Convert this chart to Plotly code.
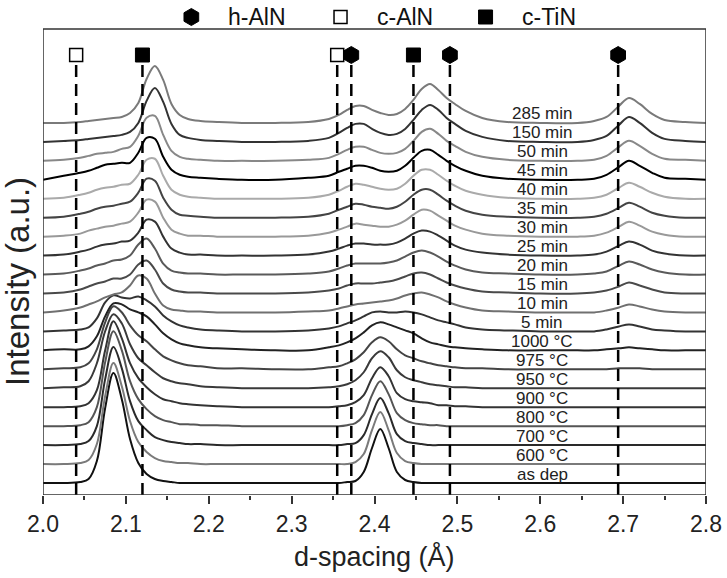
import plotly.graph_objects as go

# ---------------- data ----------------
d_spacing = [2.000, 2.025, 2.045, 2.055, 2.065, 2.075, 2.085, 2.095, 2.105, 2.115,
             2.125, 2.135, 2.145, 2.155, 2.165, 2.175, 2.19, 2.21, 2.24, 2.28,
             2.32, 2.345, 2.357, 2.367, 2.377, 2.387, 2.397, 2.407, 2.417, 2.427,
             2.437, 2.447, 2.457, 2.467, 2.477, 2.487, 2.497, 2.51, 2.53, 2.56,
             2.60, 2.645, 2.665, 2.68, 2.695, 2.707, 2.72, 2.735, 2.75, 2.775, 2.80]

labels = ["as dep", "600 °C", "700 °C", "800 °C", "900 °C", "950 °C", "975 °C", "1000 °C",
          "5 min", "10 min", "15 min", "20 min", "25 min", "30 min", "35 min", "40 min",
          "45 min", "50 min", "150 min", "285 min"]

# intensity above each pattern's own baseline (a.u.), bottom pattern first
int_as_dep = ([0, 0, 1, 4, 22, 75, 110, 84, 44, 20, 9, 4, 2, 1, 0, 0, 0, 0, 0, 0]
              + [0, 0, 0, 1, 2, 11, 35, 54, 35, 11, 3, 1, 0, 0, 0, 0, 0, 0, 0, 0, 0]
              + [0, 0, 0, 0, 0, 0, 0, 0, 0, 0])
int_600 = ([0, 0, 1, 4, 20, 68, 101, 78, 43, 22, 12, 6, 3, 2, 1, 1, 0, 0, 0, 0]
           + [0, 0, 0, 0, 2, 10, 34, 52, 34, 11, 3, 1, 0, 0, 0, 0, 0, 0, 0, 0, 0]
           + [0, 0, 0, 0, 0, 0, 0, 0, 0, 0])
int_700 = ([0, 0, 1, 4, 19, 66, 98, 77, 44, 24, 15, 8, 5, 3, 2, 1, 1, 0, 0, 0]
           + [0, 0, 0, 1, 2, 10, 31, 47, 32, 11, 4, 2, 1, 0, 0, 0, 0, 0, 0, 0, 0]
           + [0, 0, 0, 0, 0, 0, 0, 0, 0, 0])
int_800 = ([0, 0, 1, 4, 19, 64, 95, 76, 45, 27, 17, 10, 6, 4, 2, 2, 1, 1, 0, 0]
           + [0, 0, 0, 1, 3, 11, 31, 45, 32, 13, 6, 3, 2, 1, 1, 0, 0, 0, 0, 0, 0]
           + [0, 0, 0, 0, 0, 0, 0, 0, 0, 0])
int_900 = ([0, 0, 1, 4, 17, 57, 86, 69, 44, 29, 20, 13, 8, 6, 4, 3, 2, 1, 0, 0]
           + [0, 0, 1, 2, 5, 12, 29, 40, 31, 14, 8, 6, 5, 4, 2, 2, 1, 1, 0, 0, 0]
           + [0, 0, 0, 0, 0, 0, 0, 0, 0, 0])
int_950 = ([0, 1, 2, 7, 25, 57, 74, 65, 44, 30, 23, 16, 10, 7, 5, 4, 2, 1, 0, 0]
           + [0, 1, 2, 4, 8, 16, 30, 37, 31, 18, 11, 8, 6, 4, 3, 2, 1, 1, 0, 0, 0]
           + [0, 0, 0, 0, 0, 0, 0, 0, 0, 0])
int_975 = ([0, 1, 2, 6, 20, 47, 63, 57, 44, 34, 28, 20, 13, 9, 6, 4, 3, 1, 1, 0]
           + [0, 2, 3, 6, 10, 17, 27, 32, 28, 20, 14, 11, 8, 6, 4, 3, 2, 1, 1, 0, 0]
           + [0, 0, 0, 1, 1, 1, 0, 0, 0, 0])
int_1000 = ([0, 1, 1, 4, 14, 34, 47, 46, 41, 38, 34, 26, 17, 11, 7, 5, 3, 2, 1, 0]
            + [0, 3, 5, 8, 12, 18, 25, 28, 26, 23, 20, 17, 12, 8, 6, 4, 3, 2, 1, 0, 0]
            + [0, 0, 1, 2, 3, 2, 1, 0, 0, 0])
int_5 = ([0, 1, 2, 4, 13, 29, 36, 34, 33, 35, 31, 25, 16, 10, 6, 4, 2, 1, 0, 0]
         + [1, 3, 5, 8, 11, 15, 19, 20, 19, 19, 20, 19, 17, 14, 11, 9, 7, 4, 2, 1, 0]
         + [0, 0, 2, 5, 7, 5, 2, 1, 0, 0])
int_10 = ([0, 2, 5, 8, 11, 15, 18, 20, 27, 37, 34, 19, 7, 3, 2, 1, 1, 0, 0, 0]
          + [1, 2, 4, 6, 8, 9, 10, 11, 12, 14, 17, 19, 20, 18, 15, 11, 8, 5, 2, 1, 0]
          + [0, 0, 2, 5, 8, 6, 3, 1, 0, 0])
int_15 = ([0, 1, 4, 7, 10, 12, 15, 15, 19, 29, 33, 24, 10, 4, 2, 1, 1, 0, 0, 0]
          + [1, 3, 5, 8, 10, 10, 10, 11, 12, 14, 17, 20, 21, 19, 15, 11, 8, 5, 2, 1, 0]
          + [0, 1, 3, 7, 11, 8, 4, 1, 0, 0])
int_20 = ([0, 1, 4, 6, 9, 11, 14, 15, 19, 30, 36, 26, 11, 4, 2, 1, 1, 0, 0, 0]
          + [1, 3, 6, 9, 11, 11, 11, 11, 12, 14, 18, 22, 24, 22, 18, 13, 9, 5, 2, 1, 0]
          + [0, 1, 3, 9, 13, 10, 5, 2, 0, 0])
int_25 = ([0, 1, 4, 6, 9, 11, 12, 14, 15, 23, 36, 34, 19, 7, 3, 1, 1, 0, 0, 0]
          + [1, 4, 7, 10, 12, 12, 11, 11, 11, 13, 17, 22, 25, 24, 20, 15, 10, 6, 3, 1, 0]
          + [0, 1, 4, 10, 14, 11, 5, 2, 0, 0])
int_30 = ([0, 1, 3, 6, 8, 10, 11, 13, 15, 24, 37, 35, 19, 7, 3, 1, 1, 0, 0, 0]
          + [1, 4, 7, 10, 13, 12, 11, 10, 10, 12, 16, 22, 27, 26, 21, 16, 11, 7, 3, 1, 0]
          + [0, 1, 4, 10, 15, 11, 5, 2, 0, 0])
int_35 = ([0, 1, 4, 6, 9, 11, 12, 14, 16, 25, 39, 37, 20, 8, 3, 2, 1, 0, 0, 0]
          + [1, 4, 8, 11, 14, 13, 11, 10, 9, 11, 16, 23, 28, 28, 23, 17, 12, 7, 3, 1, 0]
          + [0, 1, 4, 10, 15, 11, 5, 2, 0, 0])
int_40 = ([0, 1, 4, 6, 9, 11, 12, 14, 15, 24, 39, 40, 23, 9, 4, 2, 1, 0, 0, 0]
          + [1, 4, 8, 12, 15, 14, 12, 10, 9, 10, 15, 23, 29, 29, 24, 18, 13, 8, 4, 1, 0]
          + [0, 1, 4, 11, 16, 12, 6, 2, 0, 0])
int_45 = ([0, 4, 7, 9, 12, 15, 16, 17, 17, 27, 42, 41, 23, 10, 5, 3, 2, 1, 0, 0]
          + [2, 4, 8, 11, 14, 14, 12, 9, 8, 9, 14, 22, 29, 30, 25, 19, 14, 9, 4, 1, 0]
          + [0, 1, 5, 13, 19, 14, 7, 2, 1, 0])
int_50 = ([0, 1, 3, 5, 7, 8, 9, 12, 14, 25, 43, 45, 26, 10, 4, 2, 1, 0, 0, 0]
          + [1, 3, 7, 11, 14, 14, 11, 8, 7, 8, 12, 20, 29, 32, 27, 20, 15, 9, 4, 1, 0]
          + [0, 1, 5, 14, 20, 15, 7, 2, 1, 0])
int_150 = ([0, 1, 2, 3, 4, 5, 6, 7, 10, 19, 41, 54, 40, 18, 7, 4, 2, 1, 0, 0]
           + [1, 4, 9, 14, 18, 18, 13, 9, 7, 8, 13, 22, 32, 37, 32, 24, 18, 11, 5, 1, 0]
           + [0, 2, 6, 17, 25, 19, 9, 3, 1, 0])
int_285 = ([0, 0, 1, 2, 3, 4, 5, 6, 10, 20, 44, 57, 43, 19, 8, 4, 2, 1, 0, 0]
           + [1, 4, 8, 13, 17, 17, 13, 10, 8, 9, 14, 23, 34, 39, 33, 25, 19, 12, 5, 1, 0]
           + [0, 2, 6, 17, 25, 19, 9, 3, 1, 0])

intensities = [int_as_dep, int_600, int_700, int_800, int_900, int_950, int_975, int_1000,
               int_5, int_10, int_15, int_20, int_25, int_30, int_35, int_40,
               int_45, int_50, int_150, int_285]

# reference reflections
ref_phase = ["c-AlN", "c-TiN", "c-AlN", "h-AlN", "c-TiN", "h-AlN", "h-AlN"]
ref_d = [2.040, 2.120, 2.355, 2.372, 2.447, 2.491, 2.694]
phase_names = ["h-AlN", "c-AlN", "c-TiN"]

# ---------------- styles ----------------
line_colors = ["#111111", "#7a7a7a", "#2a2a2a", "#555555", "#333333", "#3a3a3a", "#444444",
               "#222222", "#333333", "#707070", "#4a4a4a", "#5a5a5a", "#333333", "#999999",
               "#444444", "#aaaaaa", "#000000", "#888888", "#333333", "#7a7a7a"]
STEP = 18.95
Y_BOTTOM, Y_FRAME_TOP, Y_TOP = -12, 454, 478
FONT = "Liberation Sans, Arial, sans-serif"
phase_style = {
    "h-AlN": dict(symbol="hexagon", size=17, color="black", line=dict(color="black", width=1)),
    "c-AlN": dict(symbol="square", size=13, color="white", line=dict(color="black", width=1.5)),
    "c-TiN": dict(symbol="square", size=14, color="black", line=dict(color="black", width=1)),
}

fig = go.Figure()

for i, (vals, col) in enumerate(zip(intensities, line_colors)):
    assert len(vals) == len(d_spacing)
    fig.add_trace(go.Scatter(
        x=d_spacing, y=[v + i * STEP for v in vals], mode="lines",
        line=dict(color=col, width=2, shape="spline", smoothing=1.0),
        hoverinfo="skip", showlegend=False))

# dashed reference lines and their markers
for ph, d in zip(ref_phase, ref_d):
    fig.add_trace(go.Scatter(
        x=[d, d], y=[Y_BOTTOM, 420], mode="lines",
        line=dict(color="black", width=2.5, dash="12px,7px"),
        hoverinfo="skip", showlegend=False))
for ph in phase_names:
    xs = [d for p, d in zip(ref_phase, ref_d) if p == ph]
    fig.add_trace(go.Scatter(
        x=xs, y=[428] * len(xs), mode="markers", marker=phase_style[ph],
        hoverinfo="skip", showlegend=False))

# legend above the frame
legend_marker_x = [2.179, 2.359, 2.534]
legend_text_x = [2.221, 2.400, 2.576]
for ph, mx, tx in zip(phase_names, legend_marker_x, legend_text_x):
    fig.add_trace(go.Scatter(
        x=[mx], y=[466], mode="markers", marker=phase_style[ph],
        hoverinfo="skip", showlegend=False))
    fig.add_annotation(x=tx, y=466, xref="x", yref="y", text=ph, showarrow=False,
                       xanchor="left", yanchor="middle",
                       font=dict(family=FONT, size=23, color="#111111"))

# pattern labels
for i, lab in enumerate(labels):
    fig.add_annotation(x=2.6026, y=i * STEP + 9, xref="x", yref="y", text=lab,
                       showarrow=False, xanchor="center", yanchor="middle",
                       font=dict(family=FONT, size=17, color="#222222"))

# axis titles
fig.add_annotation(x=0.5, y=-0.1245, xref="paper", yref="paper", text="d-spacing (Å)",
                   showarrow=False, xanchor="center", yanchor="middle",
                   font=dict(family=FONT, size=27, color="#222222"))
fig.add_annotation(x=-0.0375, y=0.435, xref="paper", yref="paper", text="Intensity (a.u.)",
                   showarrow=False, xanchor="center", yanchor="middle", textangle=-90,
                   font=dict(family=FONT, size=33, color="#222222"))

# plot frame
fig.add_shape(type="rect", xref="x", yref="y", x0=2.0, x1=2.8, y0=Y_BOTTOM, y1=Y_FRAME_TOP,
              line=dict(color="#333333", width=1.5), layer="above")

fig.update_layout(
    width=727, height=578,
    margin=dict(l=43, r=17, t=5, b=83),
    paper_bgcolor="white", plot_bgcolor="white",
    font=dict(family=FONT, color="#222222"),
    xaxis=dict(range=[2.0, 2.8], dtick=0.1, tick0=2.0, tickformat=".1f",
               ticks="outside", ticklen=8, tickwidth=1.5, tickcolor="#333333",
               minor=dict(dtick=0.05, ticks="outside", ticklen=4, tickwidth=1.5,
                          tickcolor="#333333"),
               showline=False, showgrid=False, zeroline=False,
               tickfont=dict(family=FONT, size=23, color="#222222")),
    yaxis=dict(range=[Y_BOTTOM, Y_TOP], showticklabels=False, ticks="",
               showline=False, showgrid=False, zeroline=False),
    hovermode=False,
)

fig.write_html("out.html")
